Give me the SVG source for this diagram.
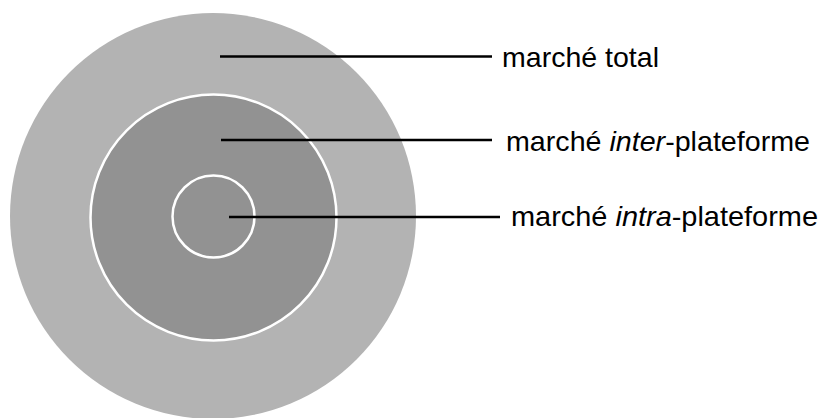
<svg xmlns="http://www.w3.org/2000/svg" width="821" height="418" viewBox="0 0 821 418">
<style>
.lbl{font-family:"Liberation Sans",Arial,sans-serif;font-size:28px;fill:#000}
.ring{stroke:#fff;stroke-width:2.5}
.conn{stroke:#000;stroke-width:2.5;fill:none}
</style>
<rect width="821" height="418" fill="#fff"/>
<g id="total">
<circle cx="213" cy="216" r="203" fill="#b3b3b3"/>
</g>
<g id="inter">
<circle class="ring" cx="213.5" cy="217.5" r="123" fill="#929292"/>
</g>
<g id="intra">
<circle class="ring" cx="213.5" cy="216.5" r="41" fill="#929292"/>
</g>
<g id="connectors">
<line class="conn" x1="220" y1="56.5" x2="492" y2="56.5"/>
<line class="conn" x1="221" y1="140" x2="492" y2="140"/>
<line class="conn" x1="229" y1="217" x2="500" y2="217"/>
</g>
<g id="labels">
<text class="lbl" x="502" y="67" textLength="157" lengthAdjust="spacingAndGlyphs">marché total</text>
<text class="lbl" x="506" y="151" textLength="304" lengthAdjust="spacingAndGlyphs">marché <tspan font-style="italic">inter</tspan>-plateforme</text>
<text class="lbl" x="511" y="226" textLength="307" lengthAdjust="spacingAndGlyphs">marché <tspan font-style="italic">intra</tspan>-plateforme</text>
</g>
</svg>
